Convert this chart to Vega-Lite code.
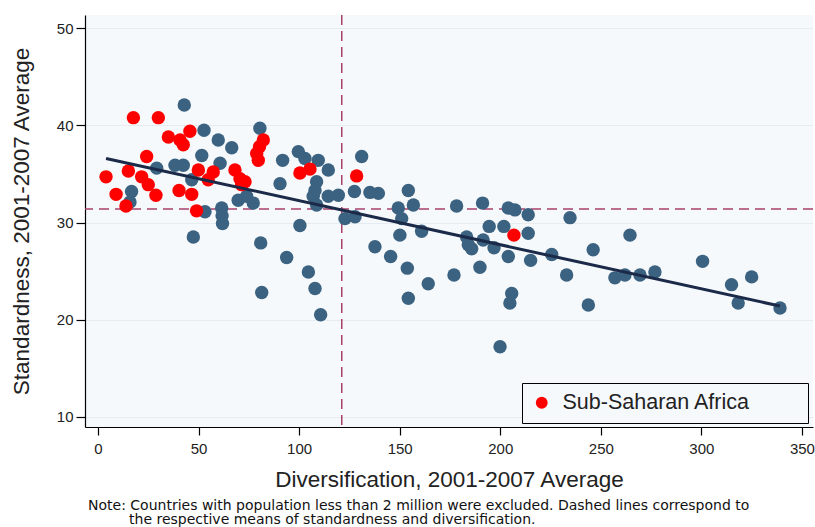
{
  "$schema": "https://vega.github.io/schema/vega-lite/v6.json",
  "autosize": "none",
  "width": 728,
  "height": 412,
  "padding": {"left": 85, "top": 15, "right": 2, "bottom": 100},
  "background": "white",
  "config": {
    "view": {"fill": "#f6f9fb", "stroke": null},
    "font": "Liberation Sans",
    "axis": {
      "labelFont": "Liberation Sans",
      "titleFont": "Liberation Sans",
      "labelColor": "#222222",
      "titleColor": "#222222",
      "titleFontWeight": "normal",
      "domainColor": "#000000",
      "tickColor": "#000000",
      "domainWidth": 1.2,
      "tickWidth": 1.2
    }
  },
  "title": {
    "text": [
      "Note: Countries with population less than 2 million were excluded. Dashed lines correspond to",
      "\u2800\u2800\u2800\u2800the respective means of standardness and diversification."
    ],
    "orient": "bottom",
    "anchor": "start",
    "frame": "group",
    "font": "DejaVu Sans",
    "fontSize": 14,
    "fontWeight": "normal",
    "color": "#111111",
    "lineHeight": 14.5,
    "offset": 8,
    "dx": 3
  },
  "datasets": {
    "pts": [
      {"x": 42.9, "y": 42.1, "g": "Other"},
      {"x": 52.7, "y": 39.5, "g": "Other"},
      {"x": 59.8, "y": 38.5, "g": "Other"},
      {"x": 66.5, "y": 37.7, "g": "Other"},
      {"x": 51.6, "y": 36.9, "g": "Other"},
      {"x": 60.7, "y": 36.1, "g": "Other"},
      {"x": 38.3, "y": 35.9, "g": "Other"},
      {"x": 42.4, "y": 35.9, "g": "Other"},
      {"x": 29.2, "y": 35.6, "g": "Other"},
      {"x": 46.6, "y": 34.4, "g": "Other"},
      {"x": 16.7, "y": 33.2, "g": "Other"},
      {"x": 15.9, "y": 32.1, "g": "Other"},
      {"x": 53.2, "y": 31.1, "g": "Other"},
      {"x": 61.5, "y": 31.5, "g": "Other"},
      {"x": 61.7, "y": 30.7, "g": "Other"},
      {"x": 61.9, "y": 29.9, "g": "Other"},
      {"x": 69.7, "y": 32.3, "g": "Other"},
      {"x": 73.9, "y": 32.7, "g": "Other"},
      {"x": 77.2, "y": 32.0, "g": "Other"},
      {"x": 80.5, "y": 39.7, "g": "Other"},
      {"x": 91.8, "y": 36.4, "g": "Other"},
      {"x": 90.5, "y": 34.0, "g": "Other"},
      {"x": 99.6, "y": 37.3, "g": "Other"},
      {"x": 102.9, "y": 36.6, "g": "Other"},
      {"x": 109.5, "y": 36.4, "g": "Other"},
      {"x": 114.5, "y": 35.4, "g": "Other"},
      {"x": 108.7, "y": 34.2, "g": "Other"},
      {"x": 107.9, "y": 33.3, "g": "Other"},
      {"x": 107.0, "y": 32.7, "g": "Other"},
      {"x": 108.7, "y": 31.8, "g": "Other"},
      {"x": 114.5, "y": 32.7, "g": "Other"},
      {"x": 119.5, "y": 32.8, "g": "Other"},
      {"x": 100.4, "y": 29.7, "g": "Other"},
      {"x": 122.8, "y": 30.4, "g": "Other"},
      {"x": 127.8, "y": 30.6, "g": "Other"},
      {"x": 131.1, "y": 36.8, "g": "Other"},
      {"x": 127.5, "y": 33.2, "g": "Other"},
      {"x": 135.2, "y": 33.1, "g": "Other"},
      {"x": 47.4, "y": 28.5, "g": "Other"},
      {"x": 80.9, "y": 27.9, "g": "Other"},
      {"x": 93.8, "y": 26.4, "g": "Other"},
      {"x": 104.6, "y": 24.9, "g": "Other"},
      {"x": 107.9, "y": 23.2, "g": "Other"},
      {"x": 110.7, "y": 20.5, "g": "Other"},
      {"x": 81.4, "y": 22.8, "g": "Other"},
      {"x": 137.7, "y": 27.5, "g": "Other"},
      {"x": 139.4, "y": 33.0, "g": "Other"},
      {"x": 154.3, "y": 33.3, "g": "Other"},
      {"x": 156.8, "y": 31.8, "g": "Other"},
      {"x": 149.3, "y": 31.5, "g": "Other"},
      {"x": 151.0, "y": 30.4, "g": "Other"},
      {"x": 150.1, "y": 28.7, "g": "Other"},
      {"x": 160.9, "y": 29.1, "g": "Other"},
      {"x": 145.5, "y": 26.5, "g": "Other"},
      {"x": 153.8, "y": 25.3, "g": "Other"},
      {"x": 164.2, "y": 23.7, "g": "Other"},
      {"x": 154.3, "y": 22.2, "g": "Other"},
      {"x": 178.3, "y": 31.7, "g": "Other"},
      {"x": 191.2, "y": 32.0, "g": "Other"},
      {"x": 204.0, "y": 31.5, "g": "Other"},
      {"x": 207.3, "y": 31.3, "g": "Other"},
      {"x": 213.9, "y": 30.8, "g": "Other"},
      {"x": 234.7, "y": 30.5, "g": "Other"},
      {"x": 183.3, "y": 28.5, "g": "Other"},
      {"x": 184.1, "y": 27.7, "g": "Other"},
      {"x": 185.8, "y": 27.3, "g": "Other"},
      {"x": 194.5, "y": 29.6, "g": "Other"},
      {"x": 191.5, "y": 28.2, "g": "Other"},
      {"x": 196.9, "y": 27.4, "g": "Other"},
      {"x": 201.8, "y": 29.6, "g": "Other"},
      {"x": 213.9, "y": 28.9, "g": "Other"},
      {"x": 204.0, "y": 26.5, "g": "Other"},
      {"x": 215.1, "y": 26.1, "g": "Other"},
      {"x": 225.6, "y": 26.7, "g": "Other"},
      {"x": 177.0, "y": 24.6, "g": "Other"},
      {"x": 189.9, "y": 25.4, "g": "Other"},
      {"x": 205.7, "y": 22.7, "g": "Other"},
      {"x": 204.8, "y": 21.7, "g": "Other"},
      {"x": 199.9, "y": 17.2, "g": "Other"},
      {"x": 233.0, "y": 24.6, "g": "Other"},
      {"x": 246.2, "y": 27.2, "g": "Other"},
      {"x": 243.8, "y": 21.5, "g": "Other"},
      {"x": 264.5, "y": 28.7, "g": "Other"},
      {"x": 257.0, "y": 24.3, "g": "Other"},
      {"x": 262.0, "y": 24.6, "g": "Other"},
      {"x": 269.5, "y": 24.6, "g": "Other"},
      {"x": 276.9, "y": 24.9, "g": "Other"},
      {"x": 300.6, "y": 26.0, "g": "Other"},
      {"x": 315.0, "y": 23.6, "g": "Other"},
      {"x": 325.0, "y": 24.4, "g": "Other"},
      {"x": 318.3, "y": 21.7, "g": "Other"},
      {"x": 339.1, "y": 21.2, "g": "Other"},
      {"x": 4.0, "y": 34.7, "g": "Sub-Saharan Africa"},
      {"x": 17.6, "y": 40.8, "g": "Sub-Saharan Africa"},
      {"x": 30.0, "y": 40.8, "g": "Sub-Saharan Africa"},
      {"x": 24.2, "y": 36.8, "g": "Sub-Saharan Africa"},
      {"x": 15.1, "y": 35.3, "g": "Sub-Saharan Africa"},
      {"x": 9.0, "y": 32.9, "g": "Sub-Saharan Africa"},
      {"x": 13.9, "y": 31.7, "g": "Sub-Saharan Africa"},
      {"x": 21.7, "y": 34.7, "g": "Sub-Saharan Africa"},
      {"x": 25.0, "y": 33.9, "g": "Sub-Saharan Africa"},
      {"x": 28.8, "y": 32.8, "g": "Sub-Saharan Africa"},
      {"x": 35.0, "y": 38.8, "g": "Sub-Saharan Africa"},
      {"x": 40.8, "y": 38.5, "g": "Sub-Saharan Africa"},
      {"x": 45.7, "y": 39.4, "g": "Sub-Saharan Africa"},
      {"x": 42.4, "y": 38.0, "g": "Sub-Saharan Africa"},
      {"x": 40.3, "y": 33.3, "g": "Sub-Saharan Africa"},
      {"x": 46.6, "y": 32.9, "g": "Sub-Saharan Africa"},
      {"x": 49.0, "y": 31.2, "g": "Sub-Saharan Africa"},
      {"x": 49.9, "y": 35.4, "g": "Sub-Saharan Africa"},
      {"x": 54.8, "y": 34.4, "g": "Sub-Saharan Africa"},
      {"x": 57.3, "y": 35.2, "g": "Sub-Saharan Africa"},
      {"x": 68.1, "y": 35.4, "g": "Sub-Saharan Africa"},
      {"x": 70.6, "y": 34.5, "g": "Sub-Saharan Africa"},
      {"x": 73.1, "y": 34.2, "g": "Sub-Saharan Africa"},
      {"x": 71.4, "y": 33.9, "g": "Sub-Saharan Africa"},
      {"x": 78.9, "y": 37.1, "g": "Sub-Saharan Africa"},
      {"x": 79.7, "y": 36.4, "g": "Sub-Saharan Africa"},
      {"x": 80.3, "y": 37.8, "g": "Sub-Saharan Africa"},
      {"x": 82.2, "y": 38.5, "g": "Sub-Saharan Africa"},
      {"x": 100.4, "y": 35.1, "g": "Sub-Saharan Africa"},
      {"x": 105.4, "y": 35.5, "g": "Sub-Saharan Africa"},
      {"x": 128.6, "y": 34.8, "g": "Sub-Saharan Africa"},
      {"x": 206.8, "y": 28.7, "g": "Sub-Saharan Africa"}
    ],
    "fit": [
      {"x": 4, "y": 36.6},
      {"x": 339, "y": 21.4}
    ],
    "means": [
      {"mx": 121.2, "my": 31.4}
    ]
  },
  "layer": [
    {
      "data": {"name": "means"},
      "mark": {"type": "rule", "color": "#a8406c", "strokeWidth": 1.5, "strokeDash": [10, 6]},
      "encoding": {"y": {"field": "my", "type": "quantitative"}}
    },
    {
      "data": {"name": "means"},
      "mark": {"type": "rule", "color": "#a8406c", "strokeWidth": 1.5, "strokeDash": [10, 6]},
      "encoding": {"x": {"field": "mx", "type": "quantitative"}}
    },
    {
      "data": {"name": "pts"},
      "mark": {"type": "circle", "size": 180, "opacity": 1},
      "encoding": {
        "x": {
          "field": "x", "type": "quantitative",
          "scale": {"domain": [-6.46, 355.5], "nice": false, "zero": false},
          "axis": {
            "values": [0, 50, 100, 150, 200, 250, 300, 350],
            "title": "Diversification, 2001-2007 Average",
            "titleFontSize": 22.5,
            "titlePadding": 12,
            "labelFontSize": 15,
            "labelPadding": 6,
            "tickSize": 8,
            "grid": false
          }
        },
        "y": {
          "field": "y", "type": "quantitative",
          "scale": {"domain": [8.94, 51.37], "nice": false, "zero": false},
          "axis": {
            "values": [10, 20, 30, 40, 50],
            "title": "Standardness, 2001-2007 Average",
            "titleFontSize": 22.5,
            "titlePadding": 23,
            "labelFontSize": 15,
            "labelPadding": 3,
            "tickSize": 9,
            "grid": true,
            "gridColor": "#e6ecef",
            "gridWidth": 1
          }
        },
        "color": {
          "field": "g", "type": "nominal",
          "scale": {"domain": ["Other", "Sub-Saharan Africa"], "range": ["#3b6280", "#ff0000"]},
          "legend": {
            "values": ["Sub-Saharan Africa"],
            "title": null,
            "orient": "none",
            "legendX": 437,
            "legendY": 368,
            "strokeColor": "#000000",
            "fillColor": "#f6f9fb",
            "padding": 9,
            "symbolType": "circle",
            "symbolSize": 140,
            "symbolStrokeWidth": 0,
            "labelFontSize": 21.5,
            "labelFont": "Liberation Sans",
            "labelColor": "#222222",
            "labelOffset": 10,
            "labelLimit": 500,
            "labelExpr": "datum.label + '\u2800\u2800\u2800'"
          }
        }
      }
    },
    {
      "data": {"name": "fit"},
      "mark": {"type": "line", "color": "#1b2a48", "strokeWidth": 3},
      "encoding": {
        "x": {"field": "x", "type": "quantitative"},
        "y": {"field": "y", "type": "quantitative"}
      }
    }
  ]
}
